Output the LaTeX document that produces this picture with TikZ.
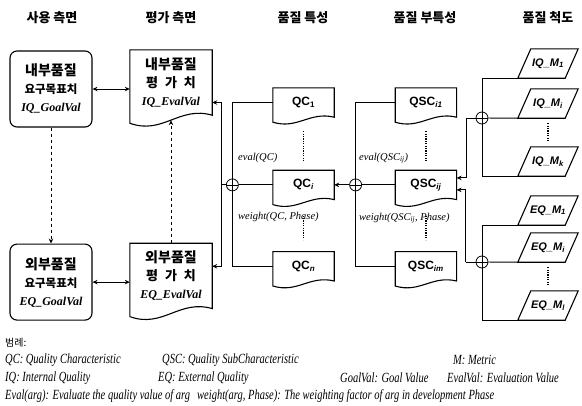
\documentclass[tikz,border=0pt]{standalone}
\usepackage{fontspec}
\setmainfont{Liberation Serif}
\newfontfamily\krfont{Noto Sans CJK KR}
\newfontfamily\lsfont{Liberation Sans}
\newfontfamily\legfont[FakeStretch=0.75]{Liberation Serif}
\newcommand{\kb}{\krfont\bfseries}
\usetikzlibrary{arrows.meta,positioning,calc}
\tikzset{
  rblk/.style={draw, rounded corners=7pt, line width=1.1pt, minimum width=82pt, minimum height=76pt, align=center, inner sep=0pt, font=\fontsize{12}{18}\selectfont},
  dblk/.style={minimum width=82pt, minimum height=65pt, align=center, inner sep=0pt, font=\fontsize{12}{18}\selectfont},
  sblk/.style={minimum width=61pt, minimum height=29pt, inner sep=0pt, font=\lsfont\bfseries\fontsize{12}{14}\selectfont},
  mblk/.style={minimum width=60pt, minimum height=29pt, inner sep=0pt, font=\lsfont\bfseries\itshape\fontsize{11}{13}\selectfont},
  sumc/.style={draw, circle, minimum size=12pt, inner sep=0pt, line width=0.8pt,
    path picture={\draw[line width=0.8pt] (path picture bounding box.north) -- (path picture bounding box.south)
      (path picture bounding box.west) -- (path picture bounding box.east);}},
  ln/.style={line width=0.9pt},
  arr/.style={-{Stealth[length=5pt,width=4.5pt]}, line width=0.9pt},
  darr/.style={arr, dashed},
  barr/.style={{Stealth[length=5pt,width=4.5pt]}-{Stealth[length=5pt,width=4.5pt]}, line width=0.9pt},
  dots/.style={line width=1.4pt, dash pattern=on 1.2pt off 1.2pt},
  hdr/.style={font=\kb\fontsize{13}{15}\selectfont},
  lbl/.style={anchor=west, inner sep=0pt, font=\itshape\fontsize{10.5}{12}\selectfont},
  leg/.style={anchor=west, inner sep=0pt, font=\legfont\itshape\fontsize{14}{16}\selectfont},
}
\newcommand{\kbig}[1]{{\kb\fontsize{14}{18}\selectfont #1}}
\newcommand{\ksmall}[1]{{\kb\fontsize{11.5}{18}\selectfont #1}}
\newcommand{\bit}[1]{\textbf{\textit{#1}}}

\begin{document}
\begin{tikzpicture}[x=1pt, y=-1pt]
\useasboundingbox (0,0) rectangle (582,405);

% column titles
\node[hdr] (h1) at (52,18) {사용 측면};
\node[hdr] (h2) at (171,18) {평가 측면};
\node[hdr] (h3) at (303,18) {품질 특성};
\node[hdr] (h4) at (425,18) {품질 부특성};
\node[hdr] (h5) at (548,18) {품질 척도};

% goal and evaluation values
\node[rblk] (iqgoal) at (51,89) {\kbig{내부품질}\\\ksmall{요구목표치}\\\bit{IQ\_GoalVal}};
\node[rblk, below=116pt of iqgoal] (eqgoal) {\kbig{외부품질}\\\ksmall{요구목표치}\\\bit{EQ\_GoalVal}};
\node[dblk] (iqeval) at (171,82.5) {\kbig{내부품질}\\{\kb\fontsize{13}{18}\selectfont 평\hspace{7pt}가\hspace{7pt}치}\\\bit{IQ\_EvalVal}};
\node[dblk, below=128pt of iqeval] (eqeval) {\kbig{외부품질}\\{\kb\fontsize{13}{18}\selectfont 평\hspace{7pt}가\hspace{7pt}치}\\\bit{EQ\_EvalVal}};

% characteristics and subcharacteristics
\node[sblk] (qc1) at (303.5,102.5) {QC\textsubscript{1}};
\node[sblk, below=53pt of qc1] (qci) {QC\textsubscript{\itshape i}};
\node[sblk, below=52pt of qci] (qcn) {QC\textsubscript{\itshape n}};
\node[sblk, right=61pt of qc1] (qsc1) {QSC\textsubscript{\itshape i1}};
\node[sblk, right=61pt of qci] (qscij) {QSC\textsubscript{\itshape ij}};
\node[sblk, right=61pt of qcn] (qscm) {QSC\textsubscript{\itshape im}};

% metrics
\node[mblk] (iqm1) at (548,63.5) {IQ\_M\textsubscript{1}};
\node[mblk] (iqmi) at (548,103.5) {IQ\_M\textsubscript{i}};
\node[mblk] (iqmk) at (548,161.5) {IQ\_M\textsubscript{k}};
\node[mblk] (eqm1) at (548,210.5) {EQ\_M\textsubscript{1}};
\node[mblk] (eqmi) at (548,247.5) {EQ\_M\textsubscript{i}};
\node[mblk] (eqml) at (548,305.5) {EQ\_M\textsubscript{l}};

% document outlines
\foreach \n/\d in {iqeval/8, eqeval/8, qc1/5, qci/5, qcn/5, qsc1/5, qscij/5, qscm/5}
  \draw[line width=1.1pt] (\n.north west) -- (\n.north east) -- (\n.south east)
    .. controls ($(\n.south west)!0.6!(\n.south east)+(0pt,1.2*\d*1pt)$)
    and ($(\n.south west)!0.4!(\n.south east)+(0pt,-2.5*\d*1pt)$) .. ([yshift=-\d pt]\n.south west) -- cycle;
\foreach \n in {iqm1, iqmi, iqmk, eqm1, eqmi, eqml}
  \draw[line width=1.1pt] (\n.south west) -- ([xshift=13pt]\n.north west) -- (\n.north east)
    -- ([xshift=-13pt]\n.south east) -- cycle;

% summing points
\node[sumc, left=34pt of qci] (c1) {};
\node[sumc, right=15pt of qci] (c2) {};
\node[sumc] (c3) at (482,118) {};
\node[sumc] (c4) at (482,262) {};
\coordinate[left=5pt of c1] (j1);
\coordinate[left=9pt of c3] (j2);
\coordinate[left=10pt of c4] (j3);

% labels
\node[lbl] (evqc) at (238,158) {eval(QC)};
\node[lbl] (wqc) at (238,217) {weight(QC, Phase)};
\node[lbl] (evqsc) at (359,158) {eval(QSC\textsubscript{ij})};
\node[lbl] (wqsc) at (359,218) {weight(QSC\textsubscript{ij}, Phase)};

% connectors
\draw[barr] (iqgoal.east) -- (iqgoal.east -| iqeval.west);
\draw[barr] (eqgoal.east) -- (eqgoal.east -| eqeval.west);
\draw[darr] (iqgoal.south) -- (eqgoal.north);
\draw[darr] (eqeval.north) -- ([yshift=-5pt]iqeval.south);

\draw[ln] (c1) -- (qci);
\draw[ln] (c1.north) |- (qc1.west);
\draw[ln] (c1.south) |- (qcn.west);
\draw[ln] (c1) -- (j1);
\draw[arr] (j1) |- (iqeval.east |- qc1.west);
\draw[arr] (j1) |- (eqeval.east |- qcn.west);

\draw[arr] (c2) -- (qci);
\draw[ln] (c2) -- (qscij);
\draw[ln] (c2.north) |- (qsc1.west);
\draw[ln] (c2.south) |- (qscm.west);

\draw[ln] (c3) -- (j2);
\draw[arr] (j2) |- ([yshift=7pt]qscij.east);
\draw[ln] (c3) -- (iqmi.south west);
\draw[ln] (c3.north) |- (iqm1.south west);
\draw[ln] (c3.south) |- (iqmk.south west);

\draw[ln] (c4) -- (j3);
\draw[arr] (j3) |- ([yshift=-5pt]qscij.east);
\draw[ln] (c4) -- (eqmi.south west);
\draw[ln] (c4.north) |- (eqm1.south west);
\draw[ln] (c4.south) |- (eqml.south west);

\draw[dots] ([yshift=-14pt]qc1.south) -- ([yshift=10pt]qci.north);
\draw[dots] ([yshift=-16pt]qci.south) -- ([yshift=12pt]qcn.north);
\draw[dots] ([yshift=-14pt]qsc1.south) -- ([yshift=10pt]qscij.north);
\draw[dots] ([yshift=-16pt]qscij.south) -- ([yshift=12pt]qscm.north);
\draw[dots] ([yshift=-5pt]iqmi.south) -- ([yshift=5pt]iqmk.north);
\draw[dots] ([yshift=-5pt]eqmi.south) -- ([yshift=5pt]eqml.north);

% legend
\node[leg, font=\krfont\fontsize{10}{12}\selectfont] (lgt) at (5,343) {범례:};
\node[leg] (lg1) at (5,360) {QC: Quality Characteristic};
\node[leg] (lg2) at (162,360) {QSC: Quality SubCharacteristic};
\node[leg] (lg3) at (453,360) {M: Metric};
\node[leg] (lg4) at (5,378) {IQ: Internal Quality};
\node[leg] (lg5) at (158,378) {EQ: External Quality};
\node[leg] (lg6) at (340,378) {GoalVal: Goal Value};
\node[leg] (lg7) at (447,378) {EvalVal: Evaluation Value};
\node[leg] (lg8) at (5,396) {Eval(arg): Evaluate the quality value of arg};
\node[leg] (lg9) at (197,396) {weight(arg, Phase): The weighting factor of arg in development Phase};
\end{tikzpicture}
\end{document}
